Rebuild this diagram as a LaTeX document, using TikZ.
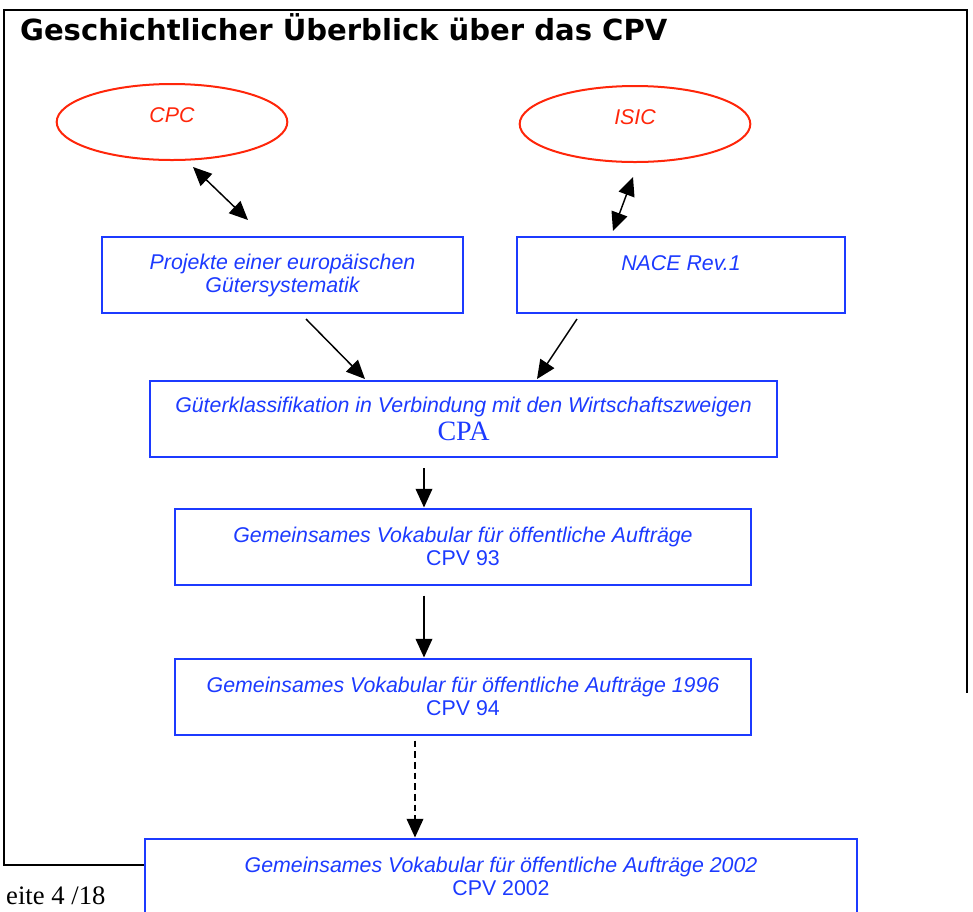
\documentclass[tikz,border=0pt]{standalone}
\usepackage{fontspec}
\setmainfont{Liberation Sans}
\newfontfamily\titlefont{DejaVu Sans}
\newfontfamily\timesfont{Liberation Serif}
\usetikzlibrary{arrows.meta,shapes.geometric,calc}
\definecolor{boxblue}{RGB}{28,58,255}
\definecolor{ovalred}{RGB}{255,38,10}

\begin{document}
\begin{tikzpicture}[x=.75pt,y=-.75pt,>={Triangle[length=14pt,width=12.5pt]},line width=1.1pt,
  box/.style={draw=boxblue,text=boxblue,line width=1.5pt,align=center,inner sep=0pt,
    minimum height=57pt,font=\fontsize{16}{17.25}\selectfont\itshape},
  oval/.style={ellipse,draw=ovalred,text=ovalred,line width=1.5pt,inner sep=0pt,
    minimum width=173pt,minimum height=57pt,text depth=10pt,font=\fontsize{16}{17.25}\selectfont\itshape},
  frame/.style={line width=1.5pt}]
  \useasboundingbox (0,0) rectangle (973,911);
  % outer frame of the page
  \draw[frame] (145,865) -| (4,10) -| (967,693);
  \node[anchor=base west,font=\titlefont\bfseries\fontsize{21.8}{24}\selectfont] (title) at (15,40)
    {Geschichtlicher Überblick über das CPV};
  % source classifications
  \node[oval] (cpc) at (172,122) {CPC};
  \node[oval] (isic) at (635,124) {ISIC};
  \node[box,minimum width=270.75pt] (proj) at (282.5,275)
    {Projekte einer europäischen\\Gütersystematik};
  \node[box,minimum width=246pt] (nace) at (681,275) {NACE Rev.1\\\mbox{}};
  \node[box,minimum width=470.25pt] (cpa) at (463.5,419)
    {Güterklassifikation in Verbindung mit den Wirtschaftszweigen\\[4pt]
     {\timesfont\upshape\fontsize{21}{21}\selectfont CPA}};
  \node[box,minimum width=432pt] (cpv93) at (463,546.5)
    {Gemeinsames Vokabular für öffentliche Aufträge\\\upshape CPV 93};
  \node[box,minimum width=432pt] (cpv94) at (463,696.5)
    {Gemeinsames Vokabular für öffentliche Aufträge 1996\\\upshape CPV 94};
  \node[box,minimum width=534pt] (cpv02) at (501,876.5)
    {Gemeinsames Vokabular für öffentliche Aufträge 2002\\\upshape CPV 2002};
  \node[anchor=base west,font=\timesfont\fontsize{20}{22}\selectfont] (page) at (1,904) {eite 4 /18};
  % connectors
  \draw[<->] ($(cpc.south)+(21,6)$) -- ($(proj.north)+(-34.5,-16)$);
  \draw[<->] ($(isic.south)+(-2,14)$) -- ($(nace.north)+(-68,-5)$);
  \draw[->] ($(proj.south)+(23.5,5)$) -- ($(cpa.north)+(-98.5,-1)$);
  \draw[->] ($(nace.south)+(-104,5)$) -- ($(cpa.north)+(73.5,-1)$);
  \draw[->] ($(cpa.south)+(-39.5,10)$) -- ($(cpv93.north)+(-39,0)$);
  \draw[->] ($(cpv93.south)+(-39,10)$) -- ($(cpv94.north)+(-39,0)$);
  \draw[->,dash pattern=on 5pt off 3pt] ($(cpv94.south)+(-48,5)$) -- ($(cpv02.north)+(-86,0)$);
\end{tikzpicture}
\end{document}
